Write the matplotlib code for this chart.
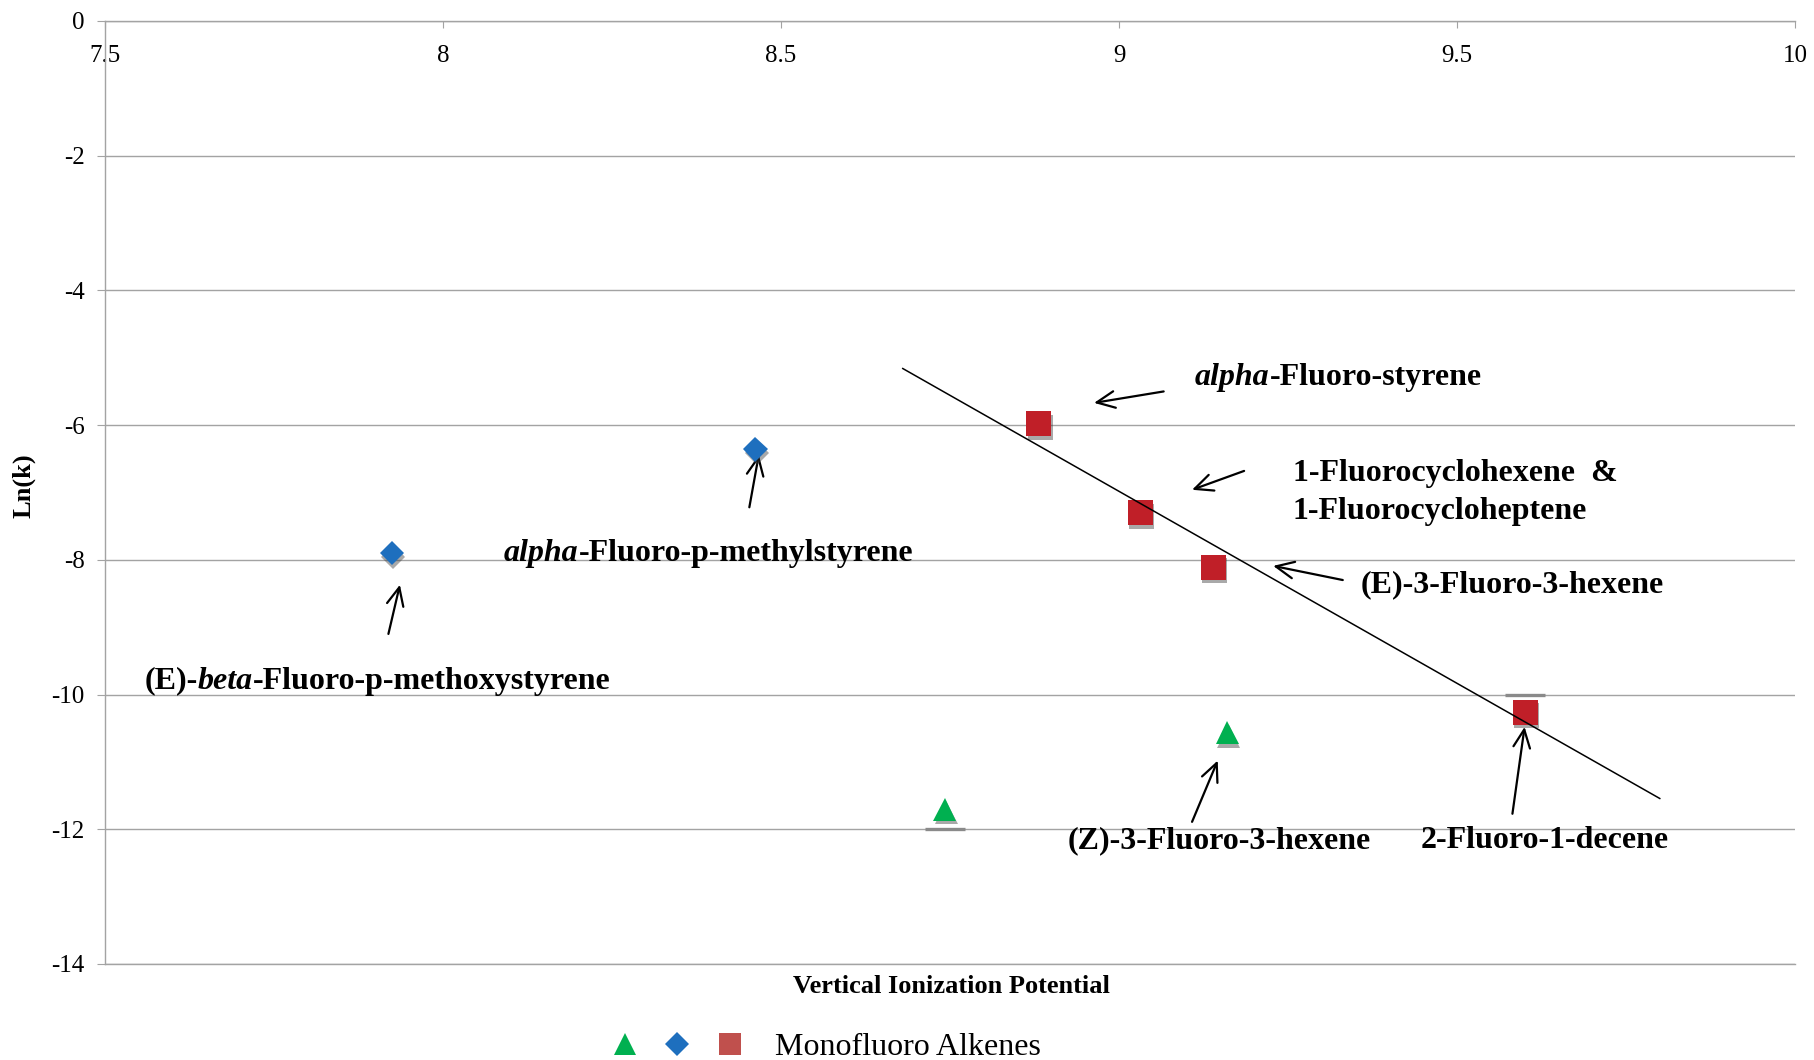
import numpy as np
import matplotlib
matplotlib.use("Agg")
import matplotlib.pyplot as plt
import matplotlib.patheffects as pe
from matplotlib.lines import Line2D
from matplotlib.legend_handler import HandlerTuple

plt.rcParams['font.family'] = 'Liberation Serif'
plt.rcParams['axes.unicode_minus'] = False

# vertical ionization potential vs ln(k)
vip_red = [8.881, 9.031, 9.139, 9.601]
lnk_red = [-5.98, -7.30, -8.11, -10.26]
vip_blue = [7.924, 8.462]
lnk_blue = [-7.90, -6.36]
vip_green = [8.742, 9.160]
lnk_green = [-11.70, -10.57]

# short grey dashes sitting on the gridlines under two points
dash_x = [8.742, 9.601]
dash_y = [-12, -10]

xticks = [7.5, 8, 8.5, 9, 9.5, 10]
xtick_labels = ['7.5', '8', '8.5', '9', '9.5', '10']
yticks = [0, -2, -4, -6, -8, -10, -12, -14]

# trendline (fit on red points) is drawn over this x span
fit_span = [8.68, 9.80]

GRID = '#a3a3a3'
RED = '#c01f28'
BLUE = '#1e6fbe'
GREEN = '#00b050'
LBL = 23

# (text parts, text pos, arrow tail, arrow head)
labels = [
    ([('alpha', 'italic'), ('-Fluoro-styrene', 'normal')], (9.112, -5.29), (9.066, -5.50), (8.963, -5.67)),
    ([('1-Fluorocyclohexene  &\n1-Fluorocycloheptene', 'normal')], (9.257, -7.00), (9.185, -6.68), (9.108, -6.96)),
    ([('(E)-3-Fluoro-3-hexene', 'normal')], (9.357, -8.37), (9.331, -8.30), (9.228, -8.09)),
    ([('2-Fluoro-1-decene', 'normal')], (9.446, -12.17), (9.582, -11.77), (9.600, -10.48)),
    ([('(Z)-3-Fluoro-3-hexene', 'normal')], (8.924, -12.17), (9.108, -11.89), (9.146, -10.98)),
    ([('alpha', 'italic'), ('-Fluoro-p-methylstyrene', 'normal')], (8.090, -7.90), (8.453, -7.22), (8.467, -6.44)),
    ([('(E)-', 'normal'), ('beta', 'italic'), ('-Fluoro-p-methoxystyrene', 'normal')], (7.558, -9.80), (7.919, -9.10), (7.936, -8.37)),
]


def put_label(ax, parts, xy):
    t = None
    for s, style in parts:
        if t is None:
            t = ax.text(xy[0], xy[1], s, style=style, weight='bold', fontsize=LBL,
                        ha='left', va='center', linespacing=1.4)
        else:
            t = ax.annotate(s, xy=(1, 0), xycoords=t, style=style, weight='bold',
                            fontsize=LBL, ha='left', va='bottom')
    return t


fig = plt.figure(figsize=(18.14, 10.60), dpi=100)
ax = fig.add_axes([0.0580, 0.0906, 0.9315, 0.8896])

shadow = [pe.SimplePatchShadow(offset=(1.0, -2.5), shadow_rgbFace='0.25', alpha=0.45), pe.Normal()]

ax.plot(dash_x, dash_y, ls='none', marker='_', ms=29, mew=2.4, color='#8a8a8a', zorder=3)

slope, icpt = np.polyfit(vip_red, lnk_red, 1)
fx = np.array(fit_span)
ax.plot(fx, slope * fx + icpt, color='black', lw=1.1, zorder=5)

ax.plot(vip_red, lnk_red, ls='none', marker='s', ms=18, color=RED, mew=0, path_effects=shadow, zorder=4)
ax.plot(vip_blue, lnk_blue, ls='none', marker='D', ms=12.5, color=BLUE, mew=0, path_effects=shadow, zorder=4)
ax.plot(vip_green, lnk_green, ls='none', marker='^', ms=16.5, color=GREEN, mew=0, path_effects=shadow, zorder=4)

for parts, txy, tail, head in labels:
    put_label(ax, parts, txy)
    ax.annotate('', xy=head, xytext=tail,
                arrowprops=dict(arrowstyle='->,head_length=1.3,head_width=0.6', lw=1.6,
                                color='black', shrinkA=0, shrinkB=0, mutation_scale=10))

ax.set_xlim(7.5, 10)
ax.set_ylim(-14, 0)
ax.set_xticks(xticks, xtick_labels)
ax.set_yticks(yticks)
ax.yaxis.grid(True, color=GRID, lw=1.0)
ax.set_axisbelow(True)

ax.spines['right'].set_visible(False)
for s in ['top', 'left', 'bottom']:
    ax.spines[s].set_color(GRID)
    ax.spines[s].set_linewidth(1.0)

ax.tick_params(axis='x', top=True, labeltop=True, bottom=False, labelbottom=False,
               direction='in', length=5, color=GRID, labelsize=18, pad=-33)
ax.tick_params(axis='y', direction='out', length=5.8, color=GRID, labelsize=18, pad=9)

ax.set_xlabel('Vertical Ionization Potential', fontsize=19, weight='bold')
ax.xaxis.set_label_position('bottom')
ax.xaxis.set_label_coords(0.501, -0.012)
ax.set_ylabel('Ln(k)', fontsize=19, weight='bold')
ax.yaxis.set_label_coords(-0.041, 0.507)

h1 = Line2D([], [], ls='none', marker='^', ms=16, color=GREEN, mew=0)
h2 = Line2D([], [], ls='none', marker='D', ms=12, color=BLUE, mew=0)
h3 = Line2D([], [], ls='none', marker='s', ms=16, color='#c0504d', mew=0)
fig.legend([(h1, h2, h3)], ['Monofluoro Alkenes'],
           handler_map={tuple: HandlerTuple(ndivide=None, pad=0)},
           loc='center', bbox_to_anchor=(0.452, 0.012), frameon=False, fontsize=23,
           handlelength=4.9, handletextpad=0.6, borderpad=0, borderaxespad=0)

fig.savefig('out.png', dpi=100)
